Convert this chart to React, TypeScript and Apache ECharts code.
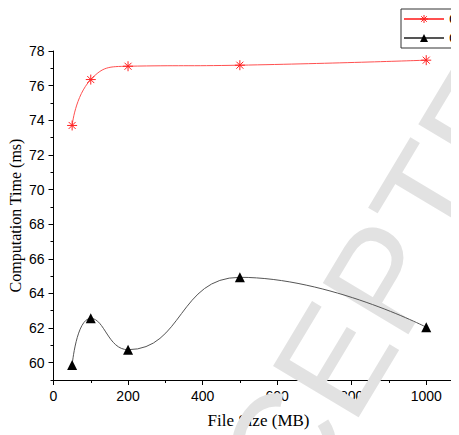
import React, { useEffect, useRef } from "react";
import * as echarts from "echarts";

const fileSizes = [50, 100, 200, 500, 1000];
const seriesA = [73.7, 76.35, 77.12, 77.18, 77.47];
const seriesB = [59.86, 62.56, 60.75, 64.93, 62.05];
const seriesNames = ["CP-ABE", "C-CP-ABE"];
const yMajor = [60, 62, 64, 66, 68, 70, 72, 74, 76, 78];
const yMinor = [59, 61, 63, 65, 67, 69, 71, 73, 75, 77];
const xMajor = [0, 200, 400, 600, 800, 1000];
const xMinor = [100, 300, 500, 700, 900, 1100];

const asterisk =
  "path://M5,0L5,10M0,5L10,5M1.5,1.5L8.5,8.5M1.5,8.5L8.5,1.5";

export default function App() {
  const ref = useRef<HTMLDivElement>(null);
  useEffect(() => {
    if (!ref.current) return;
    const chart = echarts.init(ref.current, null, { renderer: "svg" });
    const sans = "Liberation Sans";
    const serif = "Liberation Serif";
    const off = 8;
    const angle = (59 * Math.PI) / 180;
    const fs = 145;
    chart.setOption({
      animation: false,
      backgroundColor: "#fff",
      grid: {
        left: 53.5 - off,
        top: 51 - off,
        height: 329,
        width: 410,
        containLabel: false,
        outerBoundsMode: "none",
      },
      legend: {
        orient: "vertical",
        left: 401 - off,
        top: 9 - off,
        z: 0,
        itemWidth: 40,
        itemHeight: 10,
        itemGap: 5,
        borderColor: "#333",
        borderWidth: 1,
        padding: [3, 5, 3, 2],
        textStyle: { fontFamily: sans, fontSize: 14, color: "#000" },
        data: [
          {
            name: seriesNames[0],
            itemStyle: { color: "none", borderColor: "#ff2020", borderWidth: 1 },
          },
          { name: seriesNames[1] },
        ],
      },
      xAxis: [
        {
          type: "value",
          min: 0,
          max: 1100,
          axisLine: { lineStyle: { color: "#000", width: 1 } },
          axisTick: { customValues: xMajor, length: 5, lineStyle: { color: "#000" } },
          axisLabel: {
            customValues: xMajor,
            formatter: (v: number) => String(v),
            fontFamily: sans,
            fontSize: 14,
            color: "#000",
            margin: 9,
          },
          splitLine: { show: false },
          name: "File Size (MB)",
          nameLocation: "middle",
          nameGap: 32,
          nameMoveOverlap: false,
          nameTextStyle: { fontFamily: serif, fontSize: 17, color: "#000" },
        },
        {
          type: "value",
          min: 0,
          max: 1100,
          position: "bottom",
          axisLine: { show: false },
          axisTick: { customValues: xMinor, length: 3, lineStyle: { color: "#000" } },
          axisLabel: { show: false },
          splitLine: { show: false },
        },
      ],
      yAxis: [
        {
          type: "value",
          min: 59,
          max: 78,
          axisLine: { show: true, lineStyle: { color: "#000", width: 1 } },
          axisTick: { show: true, customValues: yMajor, length: 5, lineStyle: { color: "#000" } },
          axisLabel: {
            customValues: yMajor,
            fontFamily: sans,
            fontSize: 14,
            color: "#000",
            margin: 9,
          },
          splitLine: { show: false },
          name: "Computation Time (ms)",
          nameLocation: "middle",
          nameGap: 30,
          nameMoveOverlap: false,
          nameTextStyle: { fontFamily: serif, fontSize: 16, color: "#000" },
        },
        {
          type: "value",
          min: 59,
          max: 78,
          position: "left",
          axisLine: { show: false },
          axisTick: { show: true, customValues: yMinor, length: 3, lineStyle: { color: "#000" } },
          axisLabel: { show: false },
          splitLine: { show: false },
        },
      ],
      series: [
        {
          name: seriesNames[0],
          type: "line",
          smooth: 0.5,
          data: fileSizes.map((x, i) => [x, seriesA[i]]),
          symbol: asterisk,
          symbolSize: 10,
          lineStyle: { color: "#ff5050", width: 1 },
          itemStyle: { color: "#ff2020", borderColor: "#ff2020", borderWidth: 1 },
        },
        {
          name: seriesNames[1],
          type: "line",
          smooth: 0.5,
          data: fileSizes.map((x, i) => [x, seriesB[i]]),
          symbol: "triangle",
          symbolSize: 10,
          lineStyle: { color: "#555", width: 1 },
          itemStyle: { color: "#000" },
        },
      ],
      graphic: [
        {
          type: "text",
          x: 152 - off,
          y: 664 - off,
          rotation: angle,
          z: 1,
          silent: true,
          style: {
            text: "ACCEPTED",
            font: `${fs}px "Liberation Sans"`,
            fill: "#e2e2e2",
            textAlign: "left",
            textVerticalAlign: "middle",
          },
        },
      ],
    });
    return () => chart.dispose();
  }, []);
  return <div ref={ref} style={{ width: 459, height: 435 }} />;
}
